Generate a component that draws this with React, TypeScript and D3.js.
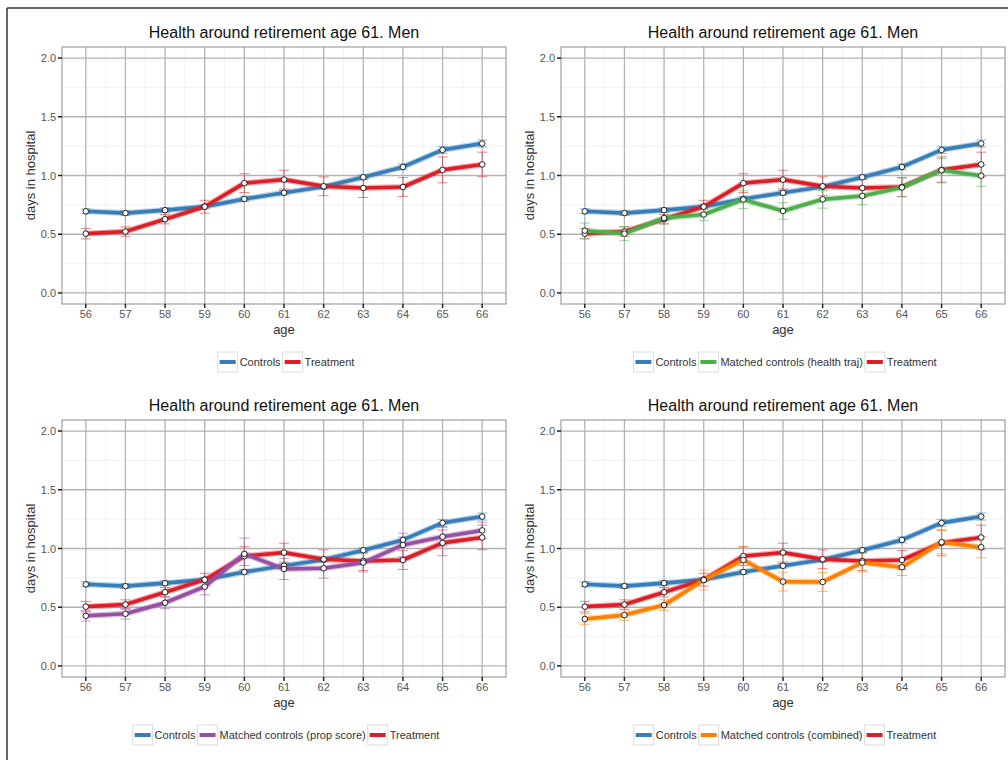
import * as d3 from 'd3';

// ages on the x axis
const ages = [56, 57, 58, 59, 60, 61, 62, 63, 64, 65, 66];
const yTicks = [0, 0.5, 1, 1.5, 2];
const yMinor = [0.25, 0.75, 1.25, 1.75];

// mean days in hospital and half-width of error bars
const controls = [0.695, 0.68, 0.705, 0.735, 0.8, 0.853, 0.905, 0.985, 1.073, 1.218, 1.272];
const controlsSe = [0.02, 0.02, 0.02, 0.02, 0.02, 0.02, 0.02, 0.02, 0.025, 0.03, 0.03];
const treatment = [0.505, 0.523, 0.628, 0.734, 0.935, 0.965, 0.908, 0.893, 0.902, 1.048, 1.094];
const treatmentSe = [0.045, 0.04, 0.04, 0.055, 0.08, 0.08, 0.08, 0.08, 0.08, 0.11, 0.105];
const healthTraj = [0.53, 0.505, 0.638, 0.668, 0.795, 0.698, 0.797, 0.826, 0.898, 1.045, 0.998];
const healthTrajSe = [0.065, 0.06, 0.05, 0.05, 0.075, 0.07, 0.075, 0.075, 0.08, 0.1, 0.09];
const propScore = [0.427, 0.444, 0.538, 0.675, 0.954, 0.826, 0.832, 0.88, 1.03, 1.1, 1.154];
const propScoreSe = [0.045, 0.045, 0.05, 0.07, 0.135, 0.09, 0.085, 0.08, 0.1, 0.08, 0.07];
const combined = [0.4, 0.433, 0.518, 0.732, 0.903, 0.718, 0.715, 0.88, 0.84, 1.054, 1.011];
const combinedSe = [0.045, 0.045, 0.045, 0.085, 0.11, 0.08, 0.08, 0.08, 0.07, 0.1, 0.09];

const TITLE = 'Health around retirement age 61. Men';
const FONT = '"Liberation Sans", Arial, Helvetica, sans-serif';

type Series = { name: string; color: string; values: number[]; se: number[] };

const CONTROLS: Series = { name: 'Controls', color: '#377eb8', values: controls, se: controlsSe };
const TREATMENT: Series = { name: 'Treatment', color: '#dc1f26', values: treatment, se: treatmentSe };

const panels = [
  { left: 62, top: 47, matched: null as Series | null },
  {
    left: 561, top: 47,
    matched: { name: 'Matched controls (health traj)', color: '#4daf4a', values: healthTraj, se: healthTrajSe },
  },
  {
    left: 62, top: 420,
    matched: { name: 'Matched controls (prop score)', color: '#984ea3', values: propScore, se: propScoreSe },
  },
  {
    left: 561, top: 420,
    matched: { name: 'Matched controls (combined)', color: '#ff7f00', values: combined, se: combinedSe },
  },
];

const PW = 444;
const PH = 257;

let canvasCtx: CanvasRenderingContext2D | null = null;
function textWidth(s: string, size: number) {
  if (!canvasCtx) canvasCtx = document.createElement('canvas').getContext('2d');
  if (!canvasCtx) return s.length * size * 0.5;
  canvasCtx.font = `${size}px ${FONT}`;
  return canvasCtx.measureText(s).width;
}

function Panel({ left, top, matched }: { left: number; top: number; matched: Series | null }) {
  const x = d3.scaleLinear().domain([55.4, 66.6]).range([left, left + PW]);
  const y = d3.scaleLinear().domain([-0.094, 2.094]).range([top + PH, top]);
  const bottom = top + PH;
  const cx = left + PW / 2;

  const drawOrder: Series[] = matched ? [CONTROLS, TREATMENT, matched] : [CONTROLS, TREATMENT];
  const legendOrder: Series[] = matched ? [CONTROLS, matched, TREATMENT] : [CONTROLS, TREATMENT];

  const line = d3
    .line<number>()
    .x((_, i) => x(ages[i]))
    .y((v) => y(v));

  // legend layout
  const keyW = 20;
  const fs = 11;
  const widths = legendOrder.map((s) => keyW + 2 + textWidth(s.name, fs) + 2);
  const total = d3.sum(widths);
  let lx = cx + 3 - total / 2;
  const ly = bottom + 58;
  const legendItems = legendOrder.map((s, i) => {
    const pos = lx;
    lx += widths[i];
    return { s, pos };
  });

  const minorX = ages.slice(0, -1).map((a) => a + 0.5);

  return (
    <g>
      <text x={cx} y={top - 9} textAnchor="middle" fontSize={16} fill="#111">
        {TITLE}
      </text>
      <rect x={left} y={top} width={PW} height={PH} fill="#fff" />
      {/* minor grid */}
      {yMinor.map((v) => (
        <line key={'ym' + v} x1={left} x2={left + PW} y1={y(v)} y2={y(v)} stroke="#efefef" strokeWidth={0.8} />
      ))}
      {minorX.map((a) => (
        <line key={'xm' + a} x1={x(a)} x2={x(a)} y1={top} y2={bottom} stroke="#efefef" strokeWidth={0.8} />
      ))}
      {/* major grid */}
      {yTicks.map((v) => (
        <line key={'y' + v} x1={left} x2={left + PW} y1={y(v)} y2={y(v)} stroke="#b3b3b3" strokeWidth={1.3} />
      ))}
      {ages.map((a) => (
        <line key={'x' + a} x1={x(a)} x2={x(a)} y1={top} y2={bottom} stroke="#b3b3b3" strokeWidth={1.3} />
      ))}
      <rect x={left} y={top} width={PW} height={PH} fill="none" stroke="#8c8c8c" strokeWidth={1} />

      {/* axes */}
      {yTicks.map((v) => (
        <g key={'yt' + v}>
          <line x1={left - 4} x2={left} y1={y(v)} y2={y(v)} stroke="#222" strokeWidth={1.5} />
          <text x={left - 6} y={y(v) + 4} textAnchor="end" fontSize={11} fill="#555">
            {d3.format('.1f')(v)}
          </text>
        </g>
      ))}
      {ages.map((a) => (
        <g key={'xt' + a}>
          <line x1={x(a)} x2={x(a)} y1={bottom} y2={bottom + 4} stroke="#222" strokeWidth={1.5} />
          <text x={x(a)} y={bottom + 14} textAnchor="middle" fontSize={11} fill="#555">
            {a}
          </text>
        </g>
      ))}
      <text x={cx} y={bottom + 30} textAnchor="middle" fontSize={13} fill="#333">
        age
      </text>
      <text
        transform={`translate(${left - 27},${top + PH / 2}) rotate(-90)`}
        textAnchor="middle"
        fontSize={13}
        fill="#333"
      >
        days in hospital
      </text>

      {/* error bars */}
      {drawOrder.map((s) => (
        <g key={'eb' + s.name} stroke={s.color} strokeOpacity={0.55} strokeWidth={1}>
          {s.values.map((v, i) => {
            const px = x(ages[i]);
            return (
              <g key={i}>
                <line x1={px} x2={px} y1={y(v - s.se[i])} y2={y(v + s.se[i])} />
                <line x1={px - 5} x2={px + 5} y1={y(v - s.se[i])} y2={y(v - s.se[i])} />
                <line x1={px - 5} x2={px + 5} y1={y(v + s.se[i])} y2={y(v + s.se[i])} />
              </g>
            );
          })}
        </g>
      ))}

      {/* lines */}
      {drawOrder.map((s) => (
        <g key={'ln' + s.name}>
          <path d={line(s.values) || ''} fill="none" stroke={s.color} strokeOpacity={0.35} strokeWidth={6} strokeLinejoin="round" />
          <path d={line(s.values) || ''} fill="none" stroke={s.color} strokeWidth={3.6} strokeLinejoin="round" />
        </g>
      ))}

      {/* points */}
      {drawOrder.map((s) => (
        <g key={'pt' + s.name}>
          {s.values.map((v, i) => (
            <circle key={i} cx={x(ages[i])} cy={y(v)} r={2.8} fill="#fff" stroke="#222" strokeWidth={1} />
          ))}
        </g>
      ))}

      {/* legend */}
      {legendItems.map(({ s, pos }) => (
        <g key={'lg' + s.name}>
          <rect x={pos} y={ly - 10} width={keyW} height={20} fill="#fff" stroke="#dcdcdc" strokeWidth={1} />
          <line x1={pos + 2} x2={pos + keyW - 2} y1={ly} y2={ly} stroke={s.color} strokeWidth={4} />
          <text x={pos + keyW + 2} y={ly + 4} fontSize={fs} fill="#333">
            {s.name}
          </text>
        </g>
      ))}
    </g>
  );
}

export default function App() {
  return (
    <svg
      width={1008}
      height={760}
      style={{ position: 'absolute', left: 0, top: 0, background: '#fff' }}
      fontFamily={FONT}
    >
      <rect width={1008} height={760} fill="#fff" />
      <line x1={7} x2={1008} y1={8} y2={8} stroke="#333" strokeWidth={1.5} />
      <line x1={7} x2={7} y1={8} y2={760} stroke="#333" strokeWidth={1.5} />
      {panels.map((p, i) => (
        <Panel key={i} left={p.left} top={p.top} matched={p.matched} />
      ))}
    </svg>
  );
}
